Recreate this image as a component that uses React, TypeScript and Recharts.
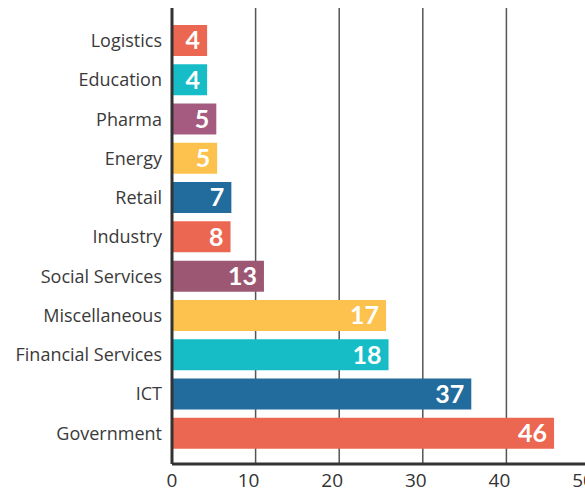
import { BarChart, Bar, XAxis, YAxis, CartesianGrid, Cell, LabelList } from "recharts";

const sectors = [
  "Logistics", "Education", "Pharma", "Energy", "Retail", "Industry",
  "Social Services", "Miscellaneous", "Financial Services", "ICT", "Government",
];
// bar lengths as drawn
const barValues = [4.2, 4.2, 5.3, 5.4, 7.1, 7.0, 11.0, 25.6, 25.9, 35.8, 45.7];
// numbers printed on the bars
const barLabels = [4, 4, 5, 5, 7, 8, 13, 17, 18, 37, 46];
const xTicks = [0, 10, 20, 30, 40, 50];

const COLORS = {
  coral: "#eb6751",
  teal: "#16bdc7",
  mauve: "#a55b80",
  plum: "#9c5873",
  yellow: "#fdc24e",
  blue: "#216b9d",
};

const barColors = [
  COLORS.coral, COLORS.teal, COLORS.mauve, COLORS.yellow, COLORS.blue, COLORS.coral,
  COLORS.plum, COLORS.yellow, COLORS.teal, COLORS.blue, COLORS.coral,
];

const data = sectors.map((name, i) => ({ name, value: barValues[i], label: barLabels[i] }));

function XTick({ x, y, payload }: any) {
  const shift = payload.value > 0 ? -7 : 0;
  return (
    <text x={x + shift} y={y} dy={23} textAnchor="middle" fill="#333" fontSize={19}
      fontFamily="'Open Sans', sans-serif">
      {payload.value}
    </text>
  );
}

export default function App() {
  return (
    <div style={{ position: "fixed", left: 0, top: 0, width: 585, height: 492, overflow: "hidden", background: "#fff" }}>
      <BarChart
        width={600}
        height={492}
        data={data}
        layout="vertical"
        margin={{ top: 8, right: 10, left: 0, bottom: 0 }}
        style={{ fontFamily: "'Open Sans', sans-serif" }}
      >
        <CartesianGrid horizontal={false} stroke="#555" strokeWidth={1.5} />
        <XAxis
          type="number"
          domain={[0, 50]}
          ticks={xTicks}
          height={28}
          axisLine={{ stroke: "#333", strokeWidth: 3 }}
          tickLine={false}
          tickSize={0}
          tickMargin={0}
          tick={<XTick />}
        />
        <YAxis
          type="category"
          dataKey="name"
          width={172}
          padding={{ top: 13, bottom: 11 }}
          axisLine={{ stroke: "#333", strokeWidth: 3 }}
          tickLine={false}
          tickSize={0}
          tickMargin={10}
          tick={{ fill: "#3a3a3a", fontSize: 18 }}
          interval={0}
        />
        <Bar dataKey="value" barSize={31} isAnimationActive={false}>
          {data.map((d, i) => (
            <Cell key={d.name} fill={barColors[i]} />
          ))}
          <LabelList
            dataKey="label"
            position="insideRight"
            offset={7}
            fill="#fff"
            fontSize={25}
            fontWeight="bold"
            fontFamily="Lato, sans-serif"
          />
        </Bar>
      </BarChart>
    </div>
  );
}
